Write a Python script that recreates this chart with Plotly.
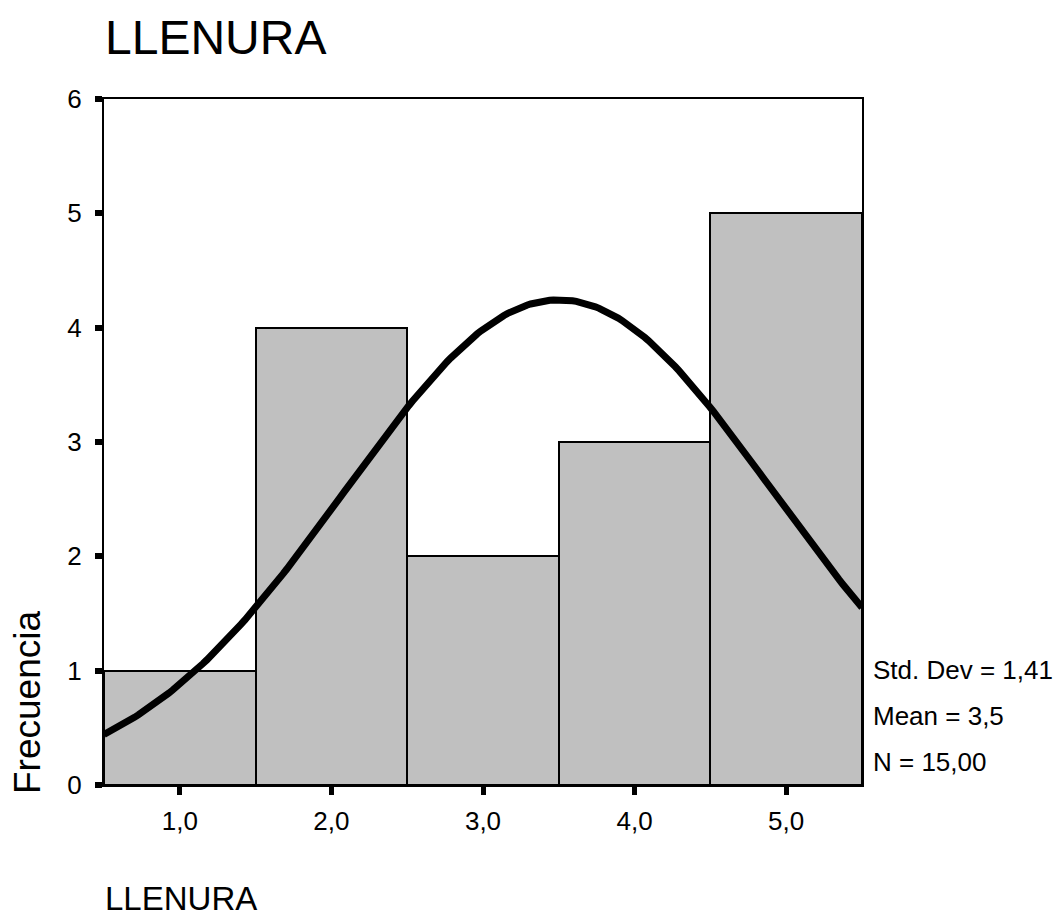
import numpy as np
import plotly.graph_objects as go

# Data
bin_centers = [1.0, 2.0, 3.0, 4.0, 5.0]
frequencies = [1, 4, 2, 3, 5]
tick_labels = ["1,0", "2,0", "3,0", "4,0", "5,0"]
y_ticks = [0, 1, 2, 3, 4, 5, 6]
std_dev = 1.41
mean = 3.5
n = 15
bin_width = 1.0
stats_text = ["Std. Dev = 1,41", "Mean = 3,5", "N = 15,00"]

# Normal curve from the displayed statistics
xc = np.linspace(0.5, 5.5, 200)
yc = n * bin_width / (std_dev * np.sqrt(2 * np.pi)) * np.exp(-0.5 * ((xc - mean) / std_dev) ** 2)

FONT = "Liberation Sans, Arial, sans-serif"

fig = go.Figure()
fig.add_trace(go.Bar(
    x=bin_centers, y=frequencies, width=bin_width,
    marker=dict(color="#c0c0c0", line=dict(color="black", width=2)),
    showlegend=False, hoverinfo="skip",
))
fig.add_trace(go.Scatter(
    x=xc, y=yc, mode="lines",
    line=dict(color="black", width=7),
    showlegend=False, hoverinfo="skip",
))

L, R, T, B = 104, 199, 99, 133
W, H = 1061, 918
pw = W - L - R
ph = H - T - B

def px(x):
    return (x - L) / pw

def py(y):
    return (H - B - y) / ph

annotations = [
    dict(text="LLENURA", x=px(103), y=py(37), xanchor="left", yanchor="middle",
         font=dict(size=48, color="black", family=FONT)),
    dict(text="LLENURA", x=px(103), y=py(898), xanchor="left", yanchor="middle",
         font=dict(size=33, color="black", family=FONT)),
    dict(text="Frecuencia", x=px(27), y=py(703), xanchor="center", yanchor="middle",
         textangle=-90, font=dict(size=37, color="black", family=FONT)),
]
for i, s in enumerate(stats_text):
    annotations.append(dict(text=s, x=px(871), y=py(670 + 46 * i), xanchor="left",
                            yanchor="middle",
                            font=dict(size=26, color="black", family=FONT)))
for a in annotations:
    a.update(xref="paper", yref="paper", showarrow=False)

fig.update_layout(
    width=W, height=H,
    margin=dict(l=L, r=R, t=T, b=B, pad=0),
    paper_bgcolor="white", plot_bgcolor="white",
    bargap=0,
    font=dict(family=FONT, color="black"),
    annotations=annotations,
    xaxis=dict(
        range=[0.5, 5.5], tickvals=bin_centers, ticktext=tick_labels,
        showgrid=False, zeroline=False, showline=True, linecolor="black", linewidth=2,
        mirror=True, ticks="outside", ticklen=8, tickwidth=5, tickcolor="black",
        ticklabelstandoff=4,
        tickfont=dict(size=26, family=FONT, color="black"),
    ),
    yaxis=dict(
        range=[0, 6], tickvals=y_ticks,
        showgrid=False, zeroline=False, showline=True, linecolor="black", linewidth=2,
        mirror=True, ticks="outside", ticklen=7, tickwidth=6, tickcolor="black",
        ticklabelstandoff=8,
        tickfont=dict(size=26, family=FONT, color="black"),
    ),
)

fig.write_html("out.html")
